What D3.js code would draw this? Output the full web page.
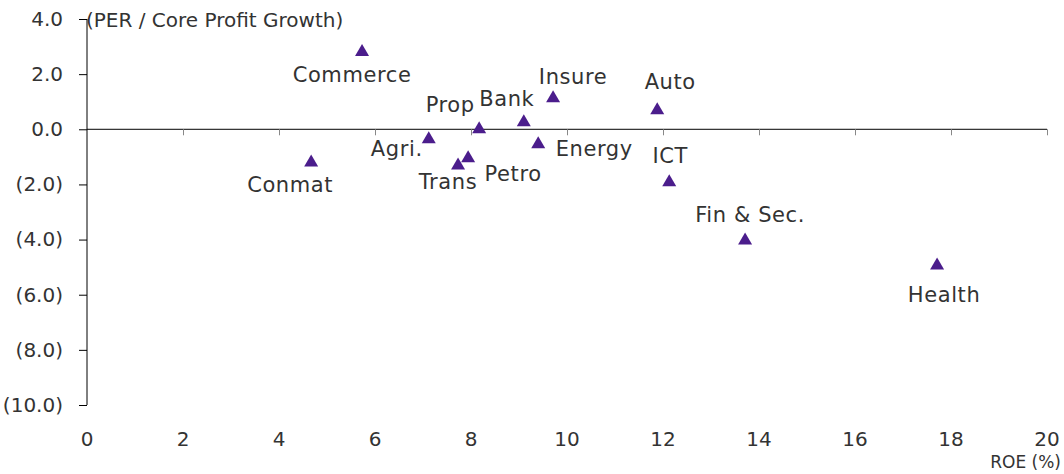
<!DOCTYPE html>
<html>
<head>
<meta charset="utf-8">
<script src="https://cdn.jsdelivr.net/npm/d3@7"></script>
<style>
  body { margin: 0; background: #fff; }
  text { font-family: "DejaVu Sans", sans-serif; fill: #333; }
</style>
</head>
<body>
<div id="chart"></div>
<script>
// sectors, ROE (%) on x, PER / core profit growth on y
const sectors = ['Commerce', 'Conmat', 'Agri.', 'Prop', 'Bank', 'Insure', 'Auto',
                 'Energy', 'Trans', 'Petro', 'ICT', 'Fin & Sec.', 'Health'];
const roe = [5.73, 4.67, 7.12, 8.17, 9.10, 9.71, 11.88, 9.40, 7.73, 7.94, 12.13, 13.71, 17.71];
const pegRatio = [2.88, -1.13, -0.29, 0.07, 0.33, 1.2, 0.76, -0.47, -1.24, -0.98, -1.85, -3.96, -4.87];
const xTicks = [0, 2, 4, 6, 8, 10, 12, 14, 16, 18, 20];
const yTicks = [4, 2, 0, -2, -4, -6, -8, -10];

// where each label sits relative to its marker (px, baseline)
const labelOffset = {
  'Commerce': [-10, 32], 'Conmat': [-21, 32], 'Agri.': [-32, 19], 'Prop': [-29, -15],
  'Bank': [-17, -14], 'Insure': [20, -12], 'Auto': [13, -19], 'Energy': [56, 14],
  'Trans': [-10, 26], 'Petro': [45, 25], 'ICT': [1, -17], 'Fin & Sec.': [5, -16],
  'Health': [7, 38]
};

const width = 1064, height = 474;
const margin = {top: 19, right: 17, bottom: 69, left: 87};

const svg = d3.select('#chart').append('svg')
  .attr('width', width)
  .attr('height', height);

const x = d3.scaleLinear().domain([0, 20]).range([margin.left, width - margin.right]);
const y = d3.scaleLinear().domain([-10, 4]).range([height - margin.bottom, margin.top]);

const fmt = d => d < 0 ? `(${d3.format('.1f')(-d)})` : d3.format('.1f')(d);

// y axis
const yAxis = svg.append('g')
  .attr('transform', `translate(${x(0)},0)`)
  .call(d3.axisLeft(y).tickValues(yTicks).tickFormat(fmt).tickSize(8).tickPadding(16));
yAxis.select('.domain').attr('stroke', '#000').attr('d', `M0,${y(4)}V${y(-10)}`);
yAxis.selectAll('.tick line').attr('stroke', '#000');
yAxis.selectAll('.tick text')
  .attr('font-size', 20)
  .attr('fill', '#333')
  .attr('font-family', '"DejaVu Sans", sans-serif');

// x axis along the zero line (ticks only)
const xAxis = svg.append('g')
  .attr('transform', `translate(0,${y(0)})`)
  .call(d3.axisBottom(x).tickValues(xTicks.slice(1)).tickFormat('').tickSizeInner(6).tickSizeOuter(0));
xAxis.select('.domain').attr('stroke', '#000').attr('d', `M${x(0)},0H${x(20)}`);
xAxis.selectAll('.tick line').attr('stroke', '#888');

// x tick labels sit below the plot
svg.append('g').selectAll('text')
  .data(xTicks)
  .join('text')
  .attr('x', d => x(d))
  .attr('y', 446)
  .attr('text-anchor', 'middle')
  .attr('font-size', 20)
  .text(d => d);

svg.append('text')
  .attr('x', x(0) - 1)
  .attr('y', 27)
  .attr('font-size', 20)
  .text('(PER / Core Profit Growth)');

svg.append('text')
  .attr('x', x(20) + 14)
  .attr('y', 468)
  .attr('text-anchor', 'end')
  .attr('font-size', 17)
  .text('ROE (%)');

// markers: triangle centred on its bounding box
const tri = 'M0,-6L7,6L-7,6Z';
svg.append('g').selectAll('path')
  .data(sectors)
  .join('path')
  .attr('d', tri)
  .attr('transform', (d, i) => `translate(${x(roe[i])},${y(pegRatio[i])})`)
  .attr('fill', '#4b1d8c');

svg.append('g').selectAll('text')
  .data(sectors)
  .join('text')
  .attr('x', (d, i) => x(roe[i]) + labelOffset[d][0])
  .attr('y', (d, i) => y(pegRatio[i]) + labelOffset[d][1])
  .attr('text-anchor', 'middle')
  .attr('font-size', 21)
  .attr('letter-spacing', 0.6)
  .text(d => d);
</script>
</body>
</html>
